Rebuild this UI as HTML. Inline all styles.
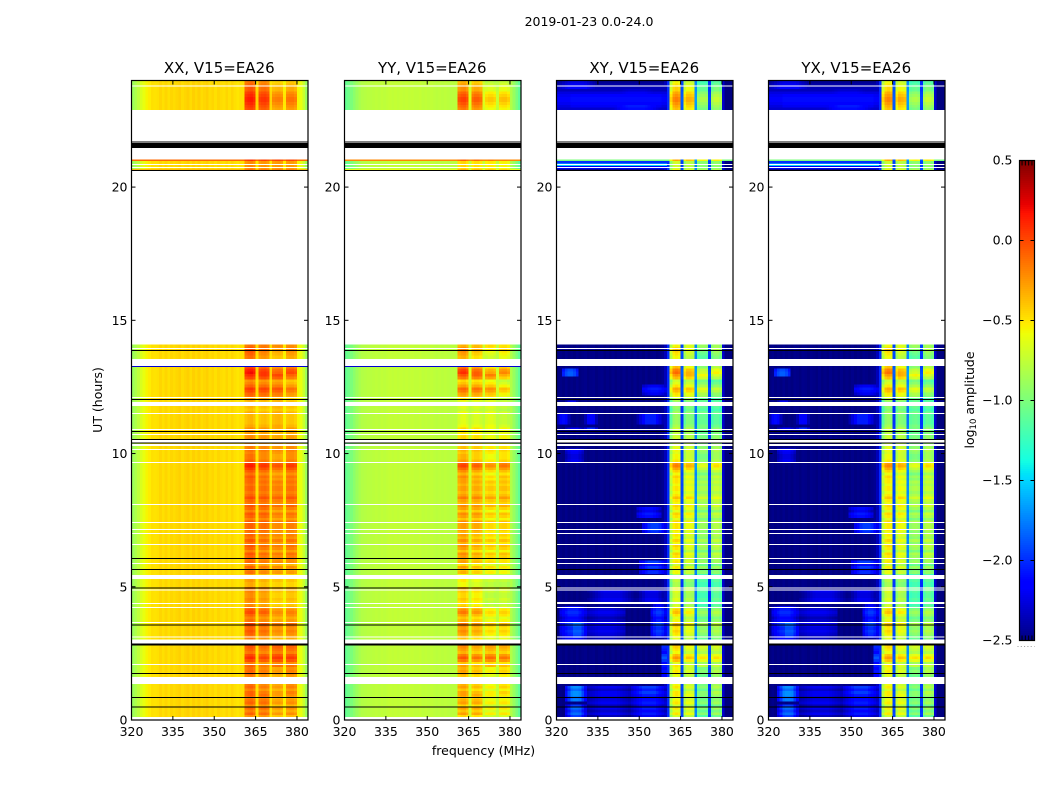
<!DOCTYPE html>
<html lang="en">
<head>
<meta charset="utf-8">
<title>2019-01-23 0.0-24.0</title>
<style>
html,body{margin:0;padding:0;background:#fff;width:1050px;height:800px;overflow:hidden}
svg{display:block}
text{font-family:"DejaVu Sans","Liberation Sans",sans-serif;fill:#000}
</style>
</head>
<body>
<svg id="figure" xmlns="http://www.w3.org/2000/svg" width="1050" height="800" viewBox="0 0 1050 800">
<text x="589" y="26" font-size="12.5" text-anchor="middle">2019-01-23 0.0-24.0</text>
<text x="483.5" y="755" font-size="12.5" text-anchor="middle">frequency (MHz)</text>
<text transform="translate(102,400) rotate(-90)" font-size="12.5" text-anchor="middle">UT (hours)</text>
<text transform="translate(974,400) rotate(-90)" font-size="12.5" text-anchor="middle">log<tspan font-size="8.5" dy="2">10</tspan><tspan dy="-2"> amplitude</tspan></text>
<g id="panels"></g>
<g id="colorbar"></g>
</svg>
<script>
/* ---------- chart data ---------- */
const panelTitles = ["XX, V15=EA26", "YY, V15=EA26", "XY, V15=EA26", "YX, V15=EA26"];
const xTickValues = [320, 335, 350, 365, 380];
const yTickValues = [0, 5, 10, 15, 20];
const colorbarTicks = [0.5, 0, -0.5, -1, -1.5, -2, -2.5];
const colorbarLabels = ["0.5", "0.0", "\u22120.5", "\u22121.0", "\u22121.5", "\u22122.0", "\u22122.5"];

/* log10 amplitude per 1 MHz channel, 320..383 MHz */
const spectrumXX = [
-0.88,-0.82,-0.76,-0.66,-0.6,-0.55,-0.52,-0.48,-0.49,-0.48,
-0.45,-0.48,-0.45,-0.48,-0.45,-0.47,-0.45,-0.43,-0.47,-0.45,
-0.43,-0.47,-0.43,-0.46,-0.43,-0.47,-0.45,-0.43,-0.47,-0.45,
-0.48,-0.45,-0.47,-0.48,-0.45,-0.48,-0.45,-0.48,-0.5,-0.48,
-0.48,-0.26,-0.22,-0.2,-0.25,-0.5,-0.28,-0.25,-0.24,-0.28,
-0.5,-0.28,-0.26,-0.25,-0.28,-0.52,-0.28,-0.26,-0.26,-0.3,
-0.55,-0.6,-0.72,-0.88];
const spectrumYY = [
-1.08,-1.04,-1.0,-0.94,-0.88,-0.83,-0.8,-0.79,-0.78,-0.78,
-0.77,-0.76,-0.77,-0.75,-0.76,-0.75,-0.74,-0.75,-0.74,-0.75,
-0.74,-0.75,-0.74,-0.75,-0.74,-0.75,-0.75,-0.74,-0.76,-0.75,
-0.76,-0.75,-0.76,-0.77,-0.76,-0.77,-0.76,-0.77,-0.78,-0.77,
-0.77,-0.5,-0.45,-0.44,-0.5,-0.72,-0.52,-0.48,-0.48,-0.53,
-0.72,-0.55,-0.52,-0.52,-0.56,-0.74,-0.57,-0.55,-0.55,-0.6,
-0.8,-0.9,-1.0,-1.1];
const spectrumXY = [
-2.5,-2.48,-2.5,-2.47,-2.5,-2.48,-2.5,-2.47,-2.5,-2.48,
-2.47,-2.5,-2.48,-2.47,-2.5,-2.48,-2.47,-2.5,-2.48,-2.5,
-2.47,-2.5,-2.48,-2.5,-2.47,-2.5,-2.48,-2.5,-2.47,-2.5,
-2.48,-2.5,-2.47,-2.5,-2.48,-2.47,-2.5,-2.48,-2.45,-2.35,
-2.0,-0.95,-0.72,-0.68,-0.72,-1.95,-0.9,-0.78,-0.78,-0.82,
-1.75,-1.0,-0.95,-0.95,-0.98,-1.95,-1.02,-0.92,-0.92,-0.98,
-2.3,-2.5,-2.5,-2.5];
const spectrumYX = [
-2.5,-2.47,-2.5,-2.48,-2.5,-2.47,-2.5,-2.48,-2.5,-2.47,
-2.48,-2.5,-2.47,-2.48,-2.5,-2.47,-2.48,-2.5,-2.47,-2.5,
-2.48,-2.5,-2.47,-2.5,-2.48,-2.5,-2.47,-2.5,-2.48,-2.5,
-2.47,-2.5,-2.48,-2.5,-2.47,-2.48,-2.5,-2.47,-2.45,-2.35,
-2.0,-0.95,-0.74,-0.7,-0.74,-1.95,-0.88,-0.76,-0.78,-0.82,
-1.75,-0.99,-0.95,-0.93,-0.98,-1.95,-1.0,-0.9,-0.92,-0.98,
-2.3,-2.5,-2.5,-2.5];

/* contiguous runs of 0.1 h rows: first row hour, number of rows */
const dataBlockStarts = [0, 20.6, 22.9];
const dataBlockCounts = [141, 5, 11];

/* gain of the 361-380 MHz band for each data row, in the order of the blocks above */
const bandRowGain = [
0.05,-0.05,0.1,0,0.1,-0.05,0.1,0.05,0,0.1,
0.1,0,0.1,0.05,0,0,0,0.05,0.1,0.05,
0.1,0,0.2,0.3,0.2,0.05,0.1,0.15,0.2,0.1,
0,0.05,0.1,0.15,0.1,0.15,0.2,0.05,0,0.1,
0.15,0.1,-0.05,-0.1,-0.1,-0.05,-0.1,-0.1,-0.05,0,
-0.1,-0.1,-0.05,-0.1,-0.1,0.1,0.05,0.15,0,0.15,
0.05,0.1,0.15,0,0.1,0.15,0.05,0.15,0.05,0.1,
0.05,0.1,0.1,0.1,0.15,0,0.1,0.15,0,0.1,
0.15,0.05,0.1,0.2,0.1,0.05,0.1,0.1,0.05,0.1,
0.05,0.1,0,0.1,0.2,0.3,0.25,0.05,0,0,
0.05,0.1,0.05,0,0,0,0,-0.05,-0.05,0,
-0.05,-0.1,-0.1,-0.1,-0.1,-0.05,-0.15,-0.1,-0.05,-0.1,
-0.1,0.05,0.1,0.2,0.25,0.1,0,-0.05,0.2,0.3,
0.3,0.25,0.1,0,0,-0.05,-0.05,0,0.05,0.1,
0.1,
0.1,0,0,0,0.3,
0.1,0.15,0.2,0.25,0.25,0.2,0.15,0.05,0.05,0,-0.05];
const panelBandGain = [0.9, 1.2, 1.3, 1.3];

/* subband offsets per hour 0..14, then the 21 h and 23 h blocks */
const subbandDriftA = [0.05,0.05,0.05,0.05,0.1,0,0.05,0.05,0.05,0.1,0,-0.05,0.05,0.15,0,0,0.15];
const subbandDriftB = [0.05,0,0,0,0.05,-0.05,0,0.05,0.05,0.05,0,-0.05,0.05,0.05,0,0,0.1];
const subbandDriftC = [-0.1,-0.1,0.05,-0.1,-0.1,-0.1,-0.05,-0.05,0,-0.05,-0.05,0,0,-0.1,-0.05,0,-0.15];
const subbandDriftD = [-0.05,0,0.05,-0.05,-0.05,-0.1,0,0,0.05,0.05,0,-0.05,-0.1,0,-0.05,0,-0.1];

/* per-region log10 amplitude floors: start hour, end hour, start MHz, end MHz, level */
const patchStartHour = [0.1,0.7,0,1,0,2.9,3.1,3.1,3,4.4,4.4,5.5,7,7.6,9.7,10.9,10.9,11.1,11.1,11.1,11.8,12.9,12.2,1.5,22.9,23,23.5,23.7,22.9,21,20.9,20.8,20.7];
const patchEndHour = [0.6,1.3,1.3,1.3,1.3,4.3,3.7,4.4,4.3,4.9,4.9,6,7.4,8,10.2,11,11,11.5,11.5,11.5,12,13.2,12.6,2.9,24,23.5,23.7,24,23.1,21.1,21,20.9,20.8];
const patchStartMHz = [323,323,347,347,331,321,324,354,331,331,349,350,351,349,323,330,323,320,330,349,323,322,351,358,320,325,340,320,340,320,320,320,320];
const patchEndMHz = [331,331,360,360,347,331,331,360,345,349,360,360,360,358,330,335,330,325,335,359,328,328,360,360,360,358,358,335,358,384,360,360,360];
const patchLevel = [-1.9,-1.8,-2.15,-2.05,-2.3,-2.15,-2.0,-2.1,-2.35,-2.15,-2.15,-2.1,-2.05,-2.2,-2.25,-2.0,-2.2,-2.0,-2.05,-1.95,-2.1,-2.15,-2.3,-2.1,-2.4,-2.35,-2.35,-2.2,-2.2,-1.3,-2.0,-1.5,-2.2];

/* whole-row brightening of parallel hands at 21 h */
const parallelRowHour = [21.0, 20.6];
const parallelRowLevelXX = [-0.1, -0.35];
const parallelRowLevelYY = [-0.2, -0.6];

/* flagged data, in hours */
const blankStart = [22.87,21.46,20.63,13.54,11.94,10.51,10.35,5.44,3.03,1.61,0];
const blankEnd = [21.71,21.03,14.12,13.28,11.79,10.41,10.29,5.29,2.88,1.36,0.12];
const blackBandStart = [21.65];
const blackBandEnd = [21.46];
const whiteLines = [23.8,20.85,20.74,13.94,12.1,11.5,10.9,10.71,10.15,9.66,8.09,7.41,7.14,7.0,6.59,5.88,4.88,4.38,4.23,3.66,3.12,2.09];
const whiteLinesCrossOnly = [6.06,4.96,4.41];
const blackLines = [21.69,20.62,13.86,12.03,10.83,10.53,10.39,6.06,5.65,4.96,3.57,2.85,2.81,1.75,0.85,0.48];
const blueLinesParallel = [13.27];

/* ---------- scales ---------- */
const spectra = [spectrumXX, spectrumYY, spectrumXY, spectrumYX];
const subbandDrifts = [subbandDriftA, subbandDriftB, subbandDriftC, subbandDriftD];
const panelLefts = [131.5, 344.5, 556.5, 768.5];
const panelWidth = 176.5;
const plotTop = 80.5, plotBottom = 720;
const fMin = 320, fMax = 384, tMin = 0, tMax = 24;
const vMin = -2.5, vMax = 0.5;
const cbLeft = 1019.5, cbRight = 1034.5, cbTop = 160.5, cbBottom = 640.5;
const SVG_NS = "http://www.w3.org/2000/svg";

function xScale(panel, f){ return panelLefts[panel] + (f - fMin) / (fMax - fMin) * panelWidth; }
function yScale(t){ return plotBottom - (t - tMin) / (tMax - tMin) * (plotBottom - plotTop); }
function cbScale(v){ return cbBottom - (v - vMin) / (vMax - vMin) * (cbBottom - cbTop); }

function seg(x, pts){
  for (let i = 1; i < pts.length; i++){
    if (x <= pts[i][0]){
      const a = pts[i-1], b = pts[i];
      return a[1] + (b[1]-a[1]) * (x-a[0]) / (b[0]-a[0]);
    }
  }
  return pts[pts.length-1][1];
}
function jet(v){
  const n = Math.max(0, Math.min(1, (v - vMin) / (vMax - vMin)));
  const r = seg(n, [[0,0],[0.35,0],[0.66,1],[0.89,1],[1,0.5]]);
  const g = seg(n, [[0,0],[0.125,0],[0.375,1],[0.64,1],[0.91,0],[1,0]]);
  const b = seg(n, [[0,0.5],[0.11,1],[0.34,1],[0.65,0],[1,0]]);
  return "rgb(" + Math.round(r*255) + "," + Math.round(g*255) + "," + Math.round(b*255) + ")";
}
function mk(tag, parent){
  const el = document.createElementNS(SVG_NS, tag);
  parent.appendChild(el);
  return el;
}
function isBand(f){ return f >= 361 && f < 380; }
function isNotch(f){ return f === 365 || f === 370 || f === 375; }
function subbandIndex(f){ return Math.min(3, Math.floor((f - 361) / 5)); }
function driftSlot(hour){ return hour < 15 ? Math.floor(hour) : (hour < 22 ? 15 : 16); }

function cellValue(panel, rowIndex, hour, col){
  const f = fMin + col;
  let v = spectra[panel][col];
  if (isBand(f)){
    const drift = subbandDrifts[subbandIndex(f)][driftSlot(hour)];
    v += (bandRowGain[rowIndex] + drift) * panelBandGain[panel] * (isNotch(f) ? 0.2 : 1);
  }
  if (panel >= 2 && !isBand(f)){
    for (let p = 0; p < patchLevel.length; p++){
      if (hour >= patchStartHour[p]-1e-6 && hour < patchEndHour[p]-1e-6 && f >= patchStartMHz[p] && f < patchEndMHz[p]){
        const span = patchEndMHz[p] - patchStartMHz[p];
        const edge = Math.min(f - patchStartMHz[p] + 0.5, patchEndMHz[p] - f - 0.5);
        const taper = span > 30 ? 1 : 0.3 + 0.7 * Math.min(1, 3 * edge / span);
        const level = vMin + (patchLevel[p] - vMin) * taper + bandRowGain[rowIndex];
        v = Math.max(v, level);
      }
    }
  }
  if (panel < 2){
    const levels = panel === 0 ? parallelRowLevelXX : parallelRowLevelYY;
    for (let p = 0; p < parallelRowHour.length; p++){
      if (Math.abs(hour - parallelRowHour[p]) < 0.01) v = Math.max(v, levels[p]);
    }
  }
  return v;
}

function hBand(panel, group, t0, t1, color, name){
  const r = mk("rect", group);
  
  
  r.setAttribute("x", panelLefts[panel]);
  r.setAttribute("width", panelWidth);
  r.setAttribute("y", yScale(Math.max(t0, t1)));
  r.setAttribute("height", Math.abs(yScale(t0) - yScale(t1)));
  r.setAttribute("fill", color);
}
function hLine(panel, group, t, color, name){
  const r = mk("rect", group);
  
  
  r.setAttribute("x", panelLefts[panel]);
  r.setAttribute("width", panelWidth);
  r.setAttribute("y", yScale(t) - 0.5);
  r.setAttribute("height", 1);
  r.setAttribute("fill", color);
}
function tickLine(group, x1, y1, x2, y2, name){
  const l = mk("line", group);
  
  
  l.setAttribute("x1", x1);
  l.setAttribute("y1", y1);
  l.setAttribute("x2", x2);
  l.setAttribute("y2", y2);
  l.setAttribute("stroke", "#000");
  l.setAttribute("stroke-width", "1");
}
function label(group, x, y, str, anchor, size, name){
  const t = mk("text", group);
  
  
  t.setAttribute("x", x);
  t.setAttribute("y", y);
  t.setAttribute("text-anchor", anchor);
  t.setAttribute("font-size", size);
  t.textContent = str;
}

/* ---------- panels ---------- */
const panelsGroup = document.getElementById("panels");
const rowHours = [];
dataBlockStarts.forEach(function(start, b){
  for (let i = 0; i < dataBlockCounts[b]; i++) rowHours.push(Math.round((start + i * 0.1) * 10) / 10);
});

panelTitles.forEach(function(title, panel){
  const g = mk("g", panelsGroup);
  
  

  const cells = mk("g", g);
  
  
  cells.setAttribute("shape-rendering", "crispEdges");
  rowHours.forEach(function(hour, rowIndex){
    const yTop = yScale(hour + 0.1), h = yScale(hour) - yTop;
    for (let col = 0; col < fMax - fMin; col++){
      const r = mk("rect", cells);
      
      
      r.setAttribute("x", xScale(panel, fMin + col));
      r.setAttribute("y", yTop);
      r.setAttribute("width", panelWidth / (fMax - fMin) + 0.4);
      r.setAttribute("height", h + 0.4);
      r.setAttribute("fill", jet(cellValue(panel, rowIndex, hour, col)));
    }
  });

  const flags = mk("g", g);
  
  
  flags.setAttribute("shape-rendering", "crispEdges");
  blankStart.forEach(function(t0, i){ hBand(panel, flags, t0, blankEnd[i], "#fff", "flagged-gap"); });
  blackBandStart.forEach(function(t0, i){ hBand(panel, flags, t0, blackBandEnd[i], "#000", "flagged-band"); });
  blackLines.forEach(function(t){ hLine(panel, flags, t, "#000", "flagged-line-black"); });
  whiteLines.forEach(function(t){ hLine(panel, flags, t, "#fff", "flagged-line-white"); });
  if (panel >= 2) whiteLinesCrossOnly.forEach(function(t){ hLine(panel, flags, t, "#fff", "flagged-line-white"); });
  if (panel < 2) blueLinesParallel.forEach(function(t){ hLine(panel, flags, t, "#0000d0", "flagged-line-blue"); });

  const frame = mk("rect", g);
  
  
  frame.setAttribute("x", panelLefts[panel]);
  frame.setAttribute("y", plotTop);
  frame.setAttribute("width", panelWidth);
  frame.setAttribute("height", plotBottom - plotTop);
  frame.setAttribute("fill", "none");
  frame.setAttribute("stroke", "#000");
  frame.setAttribute("stroke-width", "1.2");

  label(g, xScale(panel, (fMin + fMax) / 2) - 0.5, 73, title, "middle", 15, "panel-title");

  xTickValues.forEach(function(f){
    const x = xScale(panel, f);
    tickLine(g, x, plotBottom, x, plotBottom - 4, "x-tick");
    tickLine(g, x, plotTop, x, plotTop + 4, "x-tick");
    label(g, x, 736, String(f), "middle", 12.5, "x-tick-label");
  });
  yTickValues.forEach(function(t){
    const y = yScale(t);
    tickLine(g, panelLefts[panel], y, panelLefts[panel] + 4, y, "y-tick");
    tickLine(g, panelLefts[panel] + panelWidth, y, panelLefts[panel] + panelWidth - 4, y, "y-tick");
    label(g, panelLefts[panel] - 4, y + 4.5, String(t), "end", 12.5, "y-tick-label");
  });
});

/* ---------- colorbar ---------- */
const cb = document.getElementById("colorbar");
const cbSwatches = mk("g", cb);


cbSwatches.setAttribute("shape-rendering", "crispEdges");
const cbSteps = 240;
for (let i = 0; i < cbSteps; i++){
  const v0 = vMin + (vMax - vMin) * i / cbSteps;
  const v1 = vMin + (vMax - vMin) * (i + 1) / cbSteps;
  const r = mk("rect", cbSwatches);
  
  
  r.setAttribute("x", cbLeft);
  r.setAttribute("width", cbRight - cbLeft);
  r.setAttribute("y", cbScale(v1));
  r.setAttribute("height", cbScale(v0) - cbScale(v1) + 0.5);
  r.setAttribute("fill", jet((v0 + v1) / 2));
}
const cbFrame = mk("rect", cb);


cbFrame.setAttribute("x", cbLeft);
cbFrame.setAttribute("y", cbTop);
cbFrame.setAttribute("width", cbRight - cbLeft);
cbFrame.setAttribute("height", cbBottom - cbTop);
cbFrame.setAttribute("fill", "none");
cbFrame.setAttribute("stroke", "#000");
cbFrame.setAttribute("stroke-width", "1.2");

colorbarTicks.forEach(function(v, i){
  const y = cbScale(v);
  tickLine(cb, cbLeft, y, cbLeft + 4, y, "colorbar-tick");
  tickLine(cb, cbRight, y, cbRight - 4, y, "colorbar-tick");
  label(cb, 1012.5, y + 4, colorbarLabels[i], "end", 12.5, "colorbar-tick-label");
});
const cbMinorFractions = [0.17, 0.39, 0.61, 0.83];
cbMinorFractions.forEach(function(frac){
  const x = cbLeft + (cbRight - cbLeft) * frac;
  tickLine(cb, x, cbTop, x, cbTop + 5, "colorbar-end-tick");
  tickLine(cb, x, cbBottom, x, cbBottom - 5, "colorbar-end-tick");
});
const dots = mk("line", cb);


dots.setAttribute("x1", cbLeft - 2);
dots.setAttribute("x2", cbRight);
dots.setAttribute("y1", 646.5);
dots.setAttribute("y2", 646.5);
dots.setAttribute("stroke", "#999");
dots.setAttribute("stroke-width", "1");
dots.setAttribute("stroke-dasharray", "1 2.3");
</script>
</body>
</html>
